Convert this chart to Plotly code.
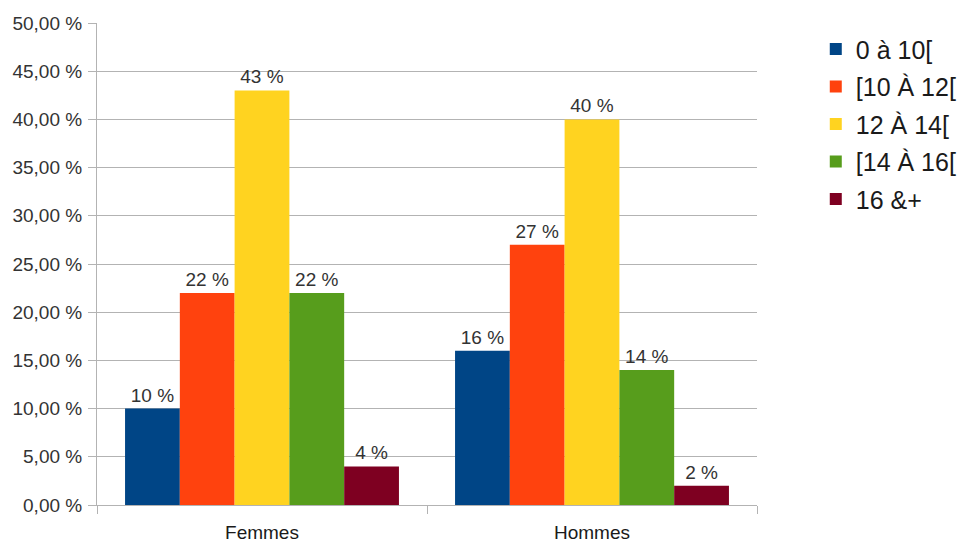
import plotly.graph_objects as go

categories = ["Femmes", "Hommes"]
series_names = ["0 à 10[", "[10 À 12[", "12 À 14[", "[14 À 16[", "16 &+"]
series_values = [
    [10, 16],
    [22, 27],
    [43, 40],
    [22, 14],
    [4, 2],
]
colors = ["#004586", "#ff420e", "#ffd320", "#579d1c", "#7e0021"]
y_ticks = [0, 5, 10, 15, 20, 25, 30, 35, 40, 45, 50]
y_tick_text = [f"{v:.2f} %".replace(".", ",") for v in y_ticks]

FONT = "Liberation Sans, Arial, sans-serif"

fig = go.Figure()
for i, (name, vals, col) in enumerate(zip(series_names, series_values, colors)):
    fig.add_trace(go.Bar(
        x=categories,
        y=vals,
        name=name,
        marker=dict(color=col, line=dict(width=0)),
        text=[f"{v:.0f} %" for v in vals],
        textposition="outside",
        textfont=dict(family=FONT, size=19, color="#333333"),
        cliponaxis=False,
        legendgroup=f"g{i}",
    ))

fig.update_layout(
    width=962,
    height=542,
    margin=dict(l=97, r=205, t=23, b=37, autoexpand=False),
    plot_bgcolor="white",
    paper_bgcolor="white",
    barmode="group",
    bargap=0.17,
    bargroupgap=0,
    font=dict(family=FONT, size=19, color="#333333"),
    showlegend=True,
    legend=dict(
        x=0.848, xanchor="left", xref="container",
        y=0.993, yanchor="top",
        font=dict(family=FONT, size=25, color="#1a1a1a"),
        tracegroupgap=2,
        itemwidth=30,
        bgcolor="rgba(0,0,0,0)",
    ),
)

fig.update_yaxes(
    range=[0, 50],
    tickmode="array",
    tickvals=y_ticks,
    ticktext=y_tick_text,
    ticks="outside",
    ticklen=8,
    tickcolor="#b3b3b3",
    showgrid=True,
    gridcolor="#b3b3b3",
    gridwidth=1,
    showline=True,
    linecolor="#b3b3b3",
    linewidth=1,
    zeroline=False,
    automargin=False,
    ticklabelstandoff=2,
    tickfont=dict(family=FONT, size=19, color="#333333"),
)

fig.update_xaxes(
    ticks="outside",
    tickson="boundaries",
    ticklen=8,
    tickcolor="#b3b3b3",
    showline=True,
    linecolor="#b3b3b3",
    linewidth=1,
    showgrid=False,
    automargin=False,
    ticklabelstandoff=10,
    tickfont=dict(family=FONT, size=19, color="#1a1a1a"),
)

fig.write_html("out.html")
